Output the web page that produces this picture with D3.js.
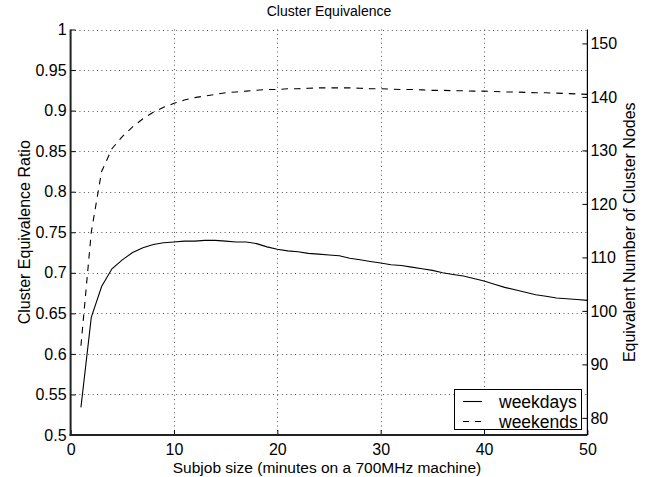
<!DOCTYPE html>
<html><head><meta charset="utf-8">
<script src="https://cdn.jsdelivr.net/npm/d3@7"></script>
<style>body{margin:0;background:#fff}svg{display:block}text{font-family:"Liberation Sans",Arial,Helvetica,sans-serif;fill:#000}</style>
</head><body>
<script>
const subjobSizes = d3.range(1, 51);
const weekdays = [0.534,0.645,0.683,0.705,0.716,0.725,0.731,0.735,0.737,0.738,
 0.739,0.739,0.740,0.740,0.739,0.738,0.738,0.736,0.732,0.729,
 0.727,0.726,0.724,0.723,0.722,0.721,0.718,0.716,0.714,0.712,
 0.710,0.709,0.707,0.705,0.703,0.700,0.698,0.696,0.693,0.690,
 0.686,0.682,0.679,0.676,0.673,0.671,0.669,0.668,0.667,0.666];
const weekends = [0.610,0.750,0.825,0.853,0.868,0.880,0.890,0.898,0.904,0.909,
 0.913,0.916,0.918,0.920,0.922,0.923,0.924,0.925,0.926,0.926,
 0.927,0.927,0.9275,0.928,0.928,0.928,0.928,0.9275,0.927,0.927,
 0.9265,0.926,0.926,0.9255,0.925,0.925,0.9245,0.9245,0.924,0.924,
 0.9235,0.923,0.923,0.9225,0.922,0.922,0.9215,0.921,0.9205,0.920];
const xTicks = [0,10,20,30,40,50];
const leftTicks = [0.5,0.55,0.6,0.65,0.7,0.75,0.8,0.85,0.9,0.95,1];
const leftTickLabels = ["0.5","0.55","0.6","0.65","0.7","0.75","0.8","0.85","0.9","0.95","1"];
const rightTicks = [80,90,100,110,120,130,140,150];
const seriesNames = ["weekdays","weekends"];

const W = 650, H = 477;
const L = 70.6, R = 587.4, T = 29.5, B = 435;
const svg = d3.select("body").append("svg").attr("width", W).attr("height", H);

const x = d3.scaleLinear().domain([0,50]).range([L,R]);
const yL = d3.scaleLinear().domain([0.5,1]).range([B,T]);
const yR = d3.scaleLinear().domain([76.8,152.6]).range([B,T]);

// grid
const grid = svg.append("g").attr("stroke","#555").attr("stroke-width",1).attr("stroke-dasharray","1,3.4");
grid.selectAll("line.h").data(leftTicks.filter(d=>d>0.5)).enter().append("line")
  .attr("x1",L).attr("x2",R).attr("y1",d=>Math.round(yL(d))+0.5).attr("y2",d=>Math.round(yL(d))+0.5);
grid.selectAll("line.v").data(xTicks.filter(d=>d>0&&d<50)).enter().append("line")
  .attr("y1",T).attr("y2",B).attr("x1",d=>Math.round(x(d))+0.5).attr("x2",d=>Math.round(x(d))+0.5);

// lines
const line = d3.line().x((d,i)=>x(subjobSizes[i])).y(d=>yL(d));
svg.append("path").datum(weekdays).attr("d",line).attr("fill","none").attr("stroke","#000").attr("stroke-width",1.1);
svg.append("path").datum(weekends).attr("d",line).attr("fill","none").attr("stroke","#000").attr("stroke-width",1.1).attr("stroke-dasharray","6.5,6");

// axes
const axL = d3.axisLeft(yL).tickValues(leftTicks).tickSizeInner(-5).tickSizeOuter(0).tickPadding(9)
  .tickFormat((d,i)=>leftTickLabels[i]);
const gL = svg.append("g").attr("transform",`translate(${L},0)`).call(axL);
const axR = d3.axisRight(yR).tickValues(rightTicks).tickSizeInner(-5).tickSizeOuter(0).tickPadding(8);
const gR = svg.append("g").attr("transform",`translate(${R},0)`).call(axR);
const axB = d3.axisBottom(x).tickValues(xTicks).tickSizeInner(-5).tickSizeOuter(0).tickPadding(9);
const gB = svg.append("g").attr("transform",`translate(0,${B})`).call(axB);
[gL,gR,gB].forEach(g=>{
  g.selectAll("path.domain").remove();
  g.selectAll("line").attr("stroke","#000");
  g.selectAll("text").attr("font-size",16).attr("font-family",null);
});
gL.selectAll(".tick text").attr("x",-4);
gR.selectAll(".tick text").attr("x",3);
gB.selectAll(".tick text").attr("y",9);
// spines
svg.append("line").attr("x1",L).attr("x2",L).attr("y1",T).attr("y2",B+1).attr("stroke","#222").attr("stroke-width",2);
svg.append("line").attr("x1",L-1).attr("x2",R).attr("y1",B).attr("y2",B).attr("stroke","#222").attr("stroke-width",2);
svg.append("line").attr("x1",R).attr("x2",R).attr("y1",T).attr("y2",B).attr("stroke","#000").attr("stroke-width",1.2);

// texts
svg.append("text").attr("x",(L+R)/2).attr("y",16).attr("text-anchor","middle").attr("font-size",14).text("Cluster Equivalence");
svg.append("text").attr("x",(L+R)/2 - 2).attr("y",473).attr("text-anchor","middle").attr("font-size",15.5).text("Subjob size (minutes on a 700MHz machine)");
svg.append("text").attr("transform",`translate(30,${(T+B)/2}) rotate(-90)`).attr("text-anchor","middle").attr("font-size",16).text("Cluster Equivalence Ratio");
svg.append("text").attr("transform",`translate(635,${(T+B)/2}) rotate(-90)`).attr("text-anchor","middle").attr("font-size",16).text("Equivalent Number of Cluster Nodes");

// legend
const lg = svg.append("g");
lg.append("rect").attr("x",454.5).attr("y",389.5).attr("width",127).attr("height",40).attr("fill","#fff").attr("stroke","#000").attr("stroke-width",1);
seriesNames.forEach((name,i)=>{
  const yy = 401.5 + i*20;
  lg.append("line").attr("x1",463).attr("x2",482).attr("y1",yy).attr("y2",yy).attr("stroke","#000").attr("stroke-width",1.1)
    .attr("stroke-dasharray", i===1 ? "6,6" : null);
  lg.append("text").attr("x",499).attr("y",yy).attr("dy","0.35em").attr("font-size",17.5).text(name);
});
</script>
</body></html>
